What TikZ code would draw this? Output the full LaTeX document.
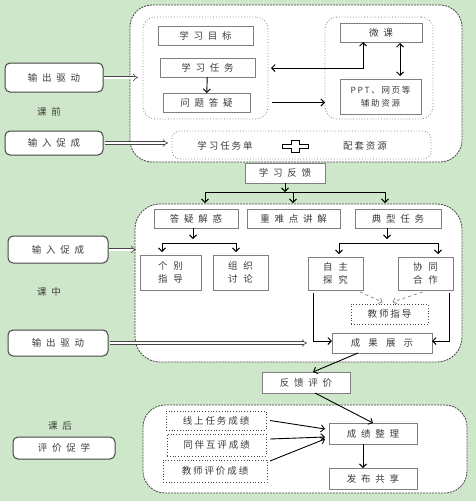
\documentclass[tikz,border=0pt]{standalone}
\usepackage{fontspec}
\newfontfamily\cjk[LetterSpace=50]{Noto Sans CJK SC}
\newfontfamily\cjkn[LetterSpace=20]{Noto Sans CJK SC}
\usetikzlibrary{arrows.meta}
\definecolor{bg}{RGB}{206,230,201}
\definecolor{txt}{RGB}{60,60,60}
\definecolor{bd}{RGB}{128,128,128}
\definecolor{dk}{RGB}{70,70,70}
\begin{document}
\begin{tikzpicture}[x=1pt,y=-1pt,
  every node/.style={inner sep=0pt, outer sep=0pt, text=txt, font=\cjk\fontsize{9.5}{13}\selectfont},
  box/.style={draw=bd, line width=0.7pt, fill=white, align=center},
  dotbox/.style={draw=dk, dotted, line width=0.8pt, fill=white, align=center},
  sidebox/.style={draw=dk, line width=1pt, rounded corners=5pt, fill=white},
  outerbox/.style={draw=dk, dash pattern=on 2pt off 1pt, line width=0.8pt, rounded corners=22pt, fill=white},
  innerbox/.style={draw=bd, dotted, line width=0.8pt, rounded corners=12pt, fill=white},
  arr/.style={draw=black, line width=0.9pt, -{Straight Barb[length=3.5pt,width=7pt]}},
  arrboth/.style={draw=black, line width=0.9pt, {Straight Barb[length=3.5pt,width=7pt]}-{Straight Barb[length=3.5pt,width=7pt]}},
  darr/.style={draw=gray, dashed, line width=0.7pt, -{Straight Barb[length=3pt,width=6pt]}},
  hollow/.style={draw=dk, double=white, double distance=2pt, line width=0.6pt, -{Implies}},
  plainline/.style={draw=black, line width=0.9pt},
]
\fill[bg] (0,0) rectangle (476,501);
\useasboundingbox (0,0) rectangle (476,501);

% ---------- 课前 ----------
\node[outerbox, minimum width=332pt, minimum height=157pt] (pre) at (296,83.5) {};
\node[innerbox, minimum width=125pt, minimum height=102pt] (lbox) at (205.5,68) {};
\node[innerbox, minimum width=108pt, minimum height=102pt] (rbox) at (379,68) {};
\node[box, minimum width=95pt, minimum height=19pt] (goal) at (205.5,35.5) {学习目标};
\node[box, minimum width=95pt, minimum height=19pt] (task) at (207.5,67.5) {学习任务};
\node[box, minimum width=87pt, minimum height=19pt] (qa) at (206.5,102.5) {问题答疑};
\node[box, minimum width=82pt, minimum height=19pt] (wk) at (381,32.5) {微课};
\node[box, minimum width=81pt, minimum height=35pt, font=\cjkn\fontsize{8.5}{13}\selectfont] (ppt) at (380.5,96.5) {PPT、网页等\\辅助资源};
\node[innerbox, minimum width=259pt, minimum height=28pt, rounded corners=8pt] (res) at (301.5,145) {};
\node[font=\cjkn\fontsize{9.5}{12}\selectfont] (rwd) at (225,146) {学习任务单};
\node[font=\cjkn\fontsize{9.5}{12}\selectfont] (rpt) at (365,146) {配套资源};
\draw[draw=black, line width=0.8pt, fill=white, shift={(295,146)}]
  (-4,-6) -- (4,-6) -- (4,-2) -- (13,-2) -- (13,2) -- (4,2) -- (4,6) -- (-4,6) -- (-4,2) -- (-13,2) -- (-13,-2) -- (-4,-2) -- cycle;

\draw[arr] (task) -- (qa);
\draw[arrboth, shorten <=3pt] (lbox.east) -| ([xshift=-18pt]wk.south);
\draw[arr] ([xshift=4pt]lbox.east |- qa.east) -- (rbox.west |- qa.east);
\draw[arrboth, shorten >=3pt, shorten <=1pt] ([xshift=19pt]wk.south) -- ([xshift=19pt]wk.south |- ppt.north);

\node[sidebox, minimum width=98pt, minimum height=29pt] (out1) at (54,77.5) {输出驱动};
\node (lbl1) at (49,112) {课前};
\node[sidebox, minimum width=98pt, minimum height=24pt] (in1) at (54,143) {输入促成};
\draw[hollow] ([xshift=1pt]out1.east) -- ([xshift=8pt]pre.west |- out1.east);
\draw[hollow] ([xshift=2pt]in1.east) -- ([xshift=-4pt]res.west |- in1.east);

% ---------- 学习反馈 ----------
\node[box, minimum width=80pt, minimum height=20pt] (fb) at (285,173) {学习反馈};
\coordinate (bl) at (205,192);
\coordinate (bm) at (293,192);
\coordinate (br) at (385,192);

% ---------- 课中 ----------
\node[outerbox, minimum width=327pt, minimum height=158pt, rounded corners=25pt] (mid) at (298.5,283) {};
\draw[plainline] (bl) -- (br);
\draw[arr] (fb.south) -- (fb.south |- bl);
\draw[arr] (bl) -- ([yshift=1pt]bl |- mid.north);
\draw[arr] (bm) -- ([yshift=1pt]bm |- mid.north);
\draw[arr] (br) -- ([yshift=1pt]br |- mid.north);

\node[box, minimum width=84pt, minimum height=19pt] (dy) at (196,218.5) {答疑解惑};
\node[box, minimum width=93pt, minimum height=19pt] (zn) at (293.5,218.5) {重难点讲解};
\node[box, minimum width=86pt, minimum height=19pt] (dx) at (398,218.5) {典型任务};
\node[box, minimum width=61pt, minimum height=35pt] (gb) at (170.5,272.5) {个\hspace{6pt}别\\指\hspace{6pt}导};
\node[box, minimum width=55pt, minimum height=35pt] (zz) at (240.5,272.5) {组\hspace{6pt}织\\讨\hspace{6pt}论};
\node[box, minimum width=55pt, minimum height=33pt] (zt) at (335.5,273.5) {自\hspace{6pt}主\\探\hspace{6pt}究};
\node[box, minimum width=55pt, minimum height=33pt] (xt) at (425.5,273.5) {协\hspace{6pt}同\\合\hspace{6pt}作};
\node[dotbox, minimum width=77pt, minimum height=20pt, font=\cjkn\fontsize{9.5}{12}\selectfont] (js) at (389.5,314) {教师指导};
\node[box, minimum width=100pt, minimum height=20pt, font=\cjk\fontsize{9.5}{12}\selectfont\addfontfeature{LetterSpace=85}] (cg) at (382,343) {成果展示};

\coordinate (b2l) at (162,243);
\coordinate (b2r) at (236,243);
\coordinate (b3l) at (339,243);
\coordinate (b3r) at (438,243);
\draw[plainline] (b2l) -- (b2r);
\draw[plainline] (b3l) -- (b3r);
\draw[arr] ([xshift=-3pt]dy.south) -- ([xshift=-3pt, yshift=4pt]dy.south |- b2l);
\draw[arr] ([xshift=-11pt]dx.south) -- ([xshift=-11pt, yshift=4pt]dx.south |- b3l);
\draw[arr] (b2l) -- ([yshift=3pt]b2l |- gb.north);
\draw[arr] (b2r) -- ([yshift=3pt]b2r |- zz.north);
\draw[arr] (b3l) -- ([yshift=3pt]b3l |- zt.north);
\draw[arr] (b3r) -- ([yshift=3pt]b3r |- xt.north);
\draw[darr] ([xshift=-3pt, yshift=-2pt]zt.south east) -- ([xshift=-7pt, yshift=2pt]js.north);
\draw[darr] ([xshift=-3pt, yshift=-2pt]xt.south) -- ([xshift=3pt, yshift=2pt]js.north);
\draw[arr] ([xshift=-22pt, yshift=-3pt]zt.south) |- ([yshift=2pt]cg.west);
\draw[arr] ([xshift=23.5pt, yshift=-3pt]xt.south) |- ([yshift=2pt]cg.east);

\node[sidebox, minimum width=100pt, minimum height=27pt] (in2) at (58,249.5) {输入促成};
\node (lbl2) at (49,292) {课中};
\node[sidebox, minimum width=100pt, minimum height=26pt] (out2) at (58,343) {输出驱动};
\draw[hollow] ([xshift=1pt]in2.east) -- ([xshift=1pt]mid.west |- in2.east);
\draw[hollow] ([xshift=2pt]out2.east) -- ([xshift=-25pt]cg.west |- out2.east);

% ---------- 反馈评价 ----------
\node[box, minimum width=88pt, minimum height=21pt] (fp) at (306,382.5) {反馈评价};
\draw[arr] ([xshift=-24pt]cg.south) -- ([xshift=7pt]fp.north);

% ---------- 课后 ----------
\node[outerbox, minimum width=324pt, minimum height=88pt] (post) at (305,449) {};
\node[dotbox, minimum width=100pt, minimum height=19pt, font=\cjkn\fontsize{9.5}{12}\selectfont] (s1) at (216,420.5) {线上任务成绩};
\node[dotbox, minimum width=99pt, minimum height=22pt, font=\cjkn\fontsize{9.5}{12}\selectfont] (s2) at (216.5,445) {同伴互评成绩};
\node[dotbox, minimum width=104pt, minimum height=22pt, font=\cjkn\fontsize{9.5}{12}\selectfont] (s3) at (215,471) {教师评价成绩};
\node[box, minimum width=88pt, minimum height=21pt] (cz) at (373,433.5) {成绩整理};
\node[box, minimum width=88pt, minimum height=21pt] (fx) at (373,478.5) {发布共享};
\draw[arr] ([xshift=9pt]fp.south) -- (cz.north);
\draw[arr] ([xshift=-10pt]cz.south) -- ([xshift=-10pt]fx.north);
\draw[arr] ([xshift=4pt]s1.east) -- ([xshift=-4pt, yshift=4.5pt]cz.west);
\draw[arr] ([xshift=4pt, yshift=6pt]s2.east) -- ([xshift=-4pt, yshift=-3.5pt]cz.west);
\draw[arr] ([xshift=3pt, yshift=10pt]s3.east) -- ([xshift=-4pt, yshift=-5.5pt]cz.west);

\node (lbl3) at (60,426) {课后};
\node[sidebox, minimum width=102pt, minimum height=22pt] (pj) at (64,448) {评价促学};
\end{tikzpicture}
\end{document}
